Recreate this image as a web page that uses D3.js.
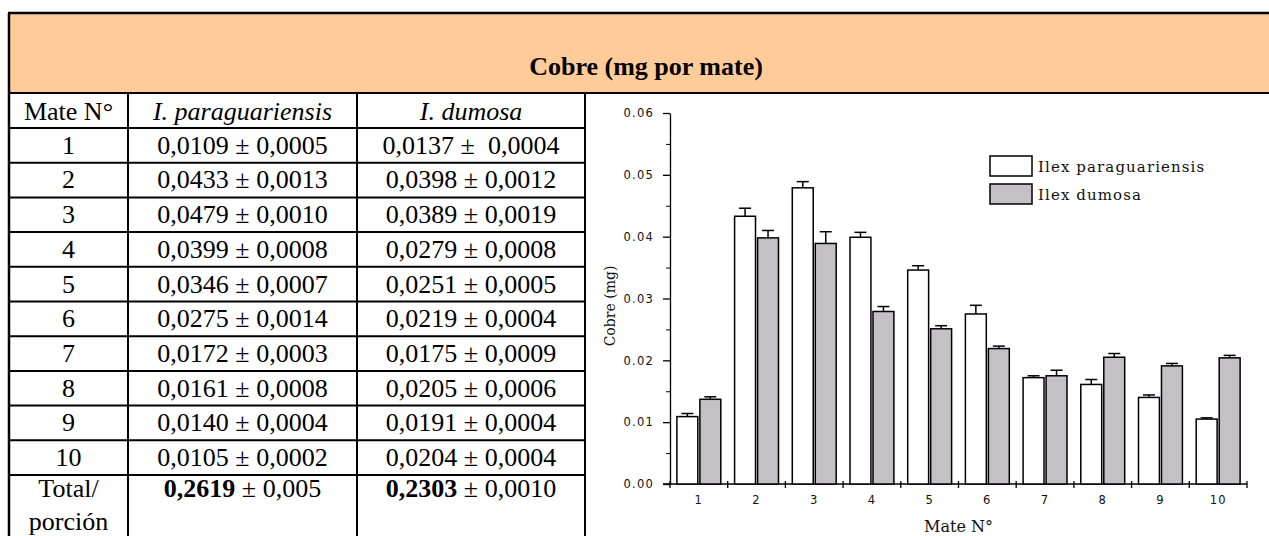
<!DOCTYPE html>
<html>
<head>
<meta charset="utf-8">
<script src="https://cdn.jsdelivr.net/npm/d3@7"></script>
<style>
  body { margin: 0; background: #fff; }
  svg { display: block; }
  text { white-space: pre; }
</style>
</head>
<body>
<script>
var W = 1269, H = 536;

var mates = [1, 2, 3, 4, 5, 6, 7, 8, 9, 10];
var paraMean = [0.0109, 0.0433, 0.0479, 0.0399, 0.0346, 0.0275, 0.0172, 0.0161, 0.0140, 0.0105];
var paraSD   = [0.0005, 0.0013, 0.0010, 0.0008, 0.0007, 0.0014, 0.0003, 0.0008, 0.0004, 0.0002];
var dumMean  = [0.0137, 0.0398, 0.0389, 0.0279, 0.0251, 0.0219, 0.0175, 0.0205, 0.0191, 0.0204];
var dumSD    = [0.0004, 0.0012, 0.0019, 0.0008, 0.0005, 0.0004, 0.0009, 0.0006, 0.0004, 0.0004];
var totals   = ["0,2619", "0,2303"];
var totalSD  = ["0,005", "0,0010"];
var series   = ["Ilex paraguariensis", "Ilex dumosa"];
var yTicks   = [0, 0.01, 0.02, 0.03, 0.04, 0.05, 0.06];

var svg = d3.select("body").append("svg")
  .attr("width", W)
  .attr("height", H);

svg.append("rect").attr("width", W).attr("height", H).attr("fill", "#fff");

// ---- table ----
var tLeft = 9, tTop = 13, headBot = 93;
var colX = [9, 128, 357, 585];
var rowH = 34.7;
var firstRow = 128;
var serif = "Liberation Serif, Times New Roman, serif";

svg.append("rect")
  .attr("x", tLeft).attr("y", tTop)
  .attr("width", W - tLeft).attr("height", headBot - tTop)
  .attr("fill", "#ffcc99");

svg.append("text")
  .attr("x", 646).attr("y", 75)
  .attr("font-family", serif).attr("font-size", 26).attr("font-weight", "bold")
  .attr("text-anchor", "middle")
  .text("Cobre (mg por mate)");

var lines = svg.append("g").attr("stroke", "#000");
lines.append("line").attr("x1", tLeft - 1).attr("x2", W).attr("y1", tTop).attr("y2", tTop).attr("stroke-width", 2.5);
lines.append("line").attr("x1", tLeft).attr("x2", tLeft).attr("y1", tTop).attr("y2", H).attr("stroke-width", 2.5);
lines.append("line").attr("x1", tLeft).attr("x2", W).attr("y1", headBot).attr("y2", headBot).attr("stroke-width", 2);
colX.slice(1).forEach(function(x) {
  lines.append("line").attr("x1", x).attr("x2", x).attr("y1", headBot).attr("y2", H).attr("stroke-width", 2);
});
for (var k = 0; k <= mates.length; k++) {
  var yy = firstRow + rowH * k;
  lines.append("line").attr("x1", tLeft).attr("x2", colX[3]).attr("y1", yy).attr("y2", yy).attr("stroke-width", 2);
}

var colC = [0, 1, 2].map(function(i) { return (colX[i] + colX[i + 1]) / 2; });
var fmt = function(v) { return v.toFixed(4).replace(".", ","); };

function cell(x, y, str, opts) {
  var t = svg.append("text")
    .attr("x", x).attr("y", y)
    .attr("font-family", serif).attr("font-size", 26)
    .attr("text-anchor", "middle");
  if (opts && opts.italic) t.attr("font-style", "italic");
  t.text(str);
  return t;
}

cell(colC[0], firstRow - 8, "Mate N°");
cell(colC[1], firstRow - 8, "I. paraguariensis", { italic: true });
cell(colC[2], firstRow - 8, "I. dumosa", { italic: true });

mates.forEach(function(m, i) {
  var by = firstRow + rowH * (i + 1) - 9;
  cell(colC[0], by, String(m));
  cell(colC[1], by, fmt(paraMean[i]) + " ± " + fmt(paraSD[i]));
  cell(colC[2], by, fmt(dumMean[i]) + (i === 0 ? " ±  " : " ± ") + fmt(dumSD[i]));
});

var totY = firstRow + rowH * mates.length;
cell(colC[0], totY + 22, "Total/");
cell(colC[0], totY + 55, "porción");
[0, 1].forEach(function(j) {
  var t = cell(colC[j + 1], totY + 22, "");
  t.append("tspan").attr("font-weight", "bold").text(totals[j]);
  t.append("tspan").text(" ± " + totalSD[j]);
});

// ---- chart ----
var plotL = 670, plotR = 1247, plotT = 113, plotB = 484;
var x = d3.scaleBand().domain(mates).range([plotL, plotR]).padding(0);
var xs = d3.scaleBand().domain([0, 1]).range([0, x.bandwidth()]).paddingInner(0.09).paddingOuter(0.3);
var y = d3.scaleLinear().domain([0, 0.06]).range([plotB, plotT]);

var tickFont = "DejaVu Sans, Verdana, sans-serif";
var chart = svg.append("g");

// minor y ticks
chart.append("g")
  .attr("transform", "translate(" + plotL + ",0)")
  .call(d3.axisLeft(y).tickValues(d3.range(0.005, 0.06, 0.01)).tickSize(4).tickSizeOuter(0).tickFormat(""))
  .call(function(g) { g.select(".domain").remove(); });

var yAxis = chart.append("g")
  .attr("transform", "translate(" + plotL + ",0)")
  .call(d3.axisLeft(y).tickValues(yTicks).tickSize(7).tickSizeOuter(0).tickPadding(9).tickFormat(d3.format(".2f")));
yAxis.selectAll("text")
  .attr("font-family", tickFont).attr("font-size", 11.5).attr("letter-spacing", 1.2).attr("fill", "#111");
yAxis.selectAll("line, path").attr("stroke-width", 1.3);

// x axis: line + ticks on band edges
var edges = mates.map(function(m) { return x(m); }).concat([plotR]);
chart.append("line")
  .attr("x1", plotL - 7).attr("x2", plotR).attr("y1", plotB).attr("y2", plotB)
  .attr("stroke", "#000").attr("stroke-width", 1.5);
chart.selectAll(".xt").data(edges).join("line")
  .attr("x1", function(d) { return d; }).attr("x2", function(d) { return d; })
  .attr("y1", plotB - 3).attr("y2", plotB + 4)
  .attr("stroke", "#000").attr("stroke-width", 1.3);

var xAxis = chart.append("g")
  .attr("transform", "translate(0," + plotB + ")")
  .call(d3.axisBottom(x).tickSize(0).tickPadding(12));
xAxis.select(".domain").remove();
xAxis.selectAll("text")
  .attr("font-family", tickFont).attr("font-size", 11.5).attr("letter-spacing", 1.2).attr("fill", "#111");

// bars
var fills = ["#ffffff", "#c3c1c5"];
var means = [paraMean, dumMean];
var sds = [paraSD, dumSD];
[0, 1].forEach(function(s) {
  var g = chart.append("g");
  var rows = mates.map(function(m, i) { return { m: m, v: means[s][i], e: sds[s][i] }; });
  var bx = function(d) { return x(d.m) + xs(s); };
  var cx = function(d) { return bx(d) + xs.bandwidth() / 2; };

  g.selectAll(".err").data(rows).join("line")
    .attr("x1", cx).attr("x2", cx)
    .attr("y1", function(d) { return y(d.v); })
    .attr("y2", function(d) { return y(d.v + d.e); })
    .attr("stroke", "#000").attr("stroke-width", 1.5);
  g.selectAll(".cap").data(rows).join("line")
    .attr("x1", function(d) { return cx(d) - 6; })
    .attr("x2", function(d) { return cx(d) + 6; })
    .attr("y1", function(d) { return y(d.v + d.e); })
    .attr("y2", function(d) { return y(d.v + d.e); })
    .attr("stroke", "#000").attr("stroke-width", 1.5);
  g.selectAll("rect").data(rows).join("rect")
    .attr("x", bx)
    .attr("y", function(d) { return y(d.v); })
    .attr("width", xs.bandwidth())
    .attr("height", function(d) { return plotB - y(d.v); })
    .attr("fill", fills[s])
    .attr("stroke", "#000").attr("stroke-width", 1.5);
});

// axis titles
var labFont = "DejaVu Serif, serif";
chart.append("text")
  .attr("transform", "translate(615,306) rotate(-90)")
  .attr("font-family", labFont).attr("font-size", 14).attr("text-anchor", "middle")
  .attr("fill", "#111")
  .text("Cobre (mg)");
chart.append("text")
  .attr("x", (plotL + plotR) / 2).attr("y", 532)
  .attr("font-family", labFont).attr("font-size", 16).attr("text-anchor", "middle")
  .attr("fill", "#111")
  .text("Mate N°");

// legend
var legend = chart.append("g").attr("transform", "translate(990,156)");
series.forEach(function(name, s) {
  legend.append("rect")
    .attr("x", 0).attr("y", s * 28)
    .attr("width", 42).attr("height", 20)
    .attr("fill", fills[s]).attr("stroke", "#000").attr("stroke-width", 1.5);
  legend.append("text")
    .attr("x", 48).attr("y", s * 28 + 16)
    .attr("font-family", labFont).attr("font-size", 15).attr("letter-spacing", 1.1)
    .attr("fill", "#111")
    .text(name);
});
</script>
</body>
</html>
